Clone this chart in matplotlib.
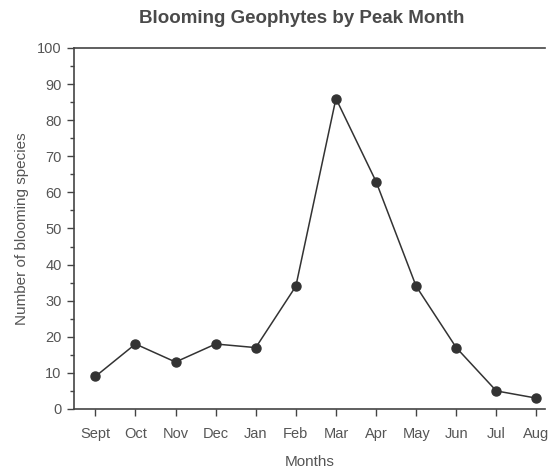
import matplotlib
matplotlib.use('Agg')
import matplotlib.pyplot as plt
from matplotlib.ticker import MultipleLocator

months = ['Sept', 'Oct', 'Nov', 'Dec', 'Jan', 'Feb', 'Mar', 'Apr', 'May', 'Jun', 'Jul', 'Aug']
species = [9, 18, 13, 18, 17, 34, 86, 63, 34, 17, 5, 3]

plt.rcParams['font.family'] = ['Liberation Sans', 'DejaVu Sans']
ink = '#444444'

fig = plt.figure(figsize=(5.53, 4.75), dpi=100)
ax = fig.add_axes([0.134, 0.139, 0.852, 0.76])

x = list(range(len(months)))
ax.plot(x, species, color='#333333', lw=1.1, marker='o', ms=6.5, mfc='#333333', mec='#333333')

ax.set_xlim(-0.53, 11.22)
ax.set_ylim(0, 100)
ax.set_xticks(x)
ax.set_xticklabels(months)
ax.yaxis.set_major_locator(MultipleLocator(10))
ax.yaxis.set_minor_locator(MultipleLocator(5))
ax.tick_params(axis='both', which='major', direction='out', length=5, width=1,
               colors=ink, labelsize=10.5, labelcolor='#555555')
ax.tick_params(axis='y', which='minor', direction='out', length=3, width=1, colors=ink)
ax.tick_params(axis='x', pad=8)
ax.tick_params(axis='y', pad=4)

for side in ['left', 'bottom', 'top']:
    ax.spines[side].set_color(ink)
    ax.spines[side].set_linewidth(1.2)
ax.spines['right'].set_visible(False)

ax.set_xlabel('Months', fontsize=11, color='#555555', labelpad=10)
ax.set_ylabel('Number of blooming species', fontsize=11, color='#555555', labelpad=6)
fig.text(0.545, 0.962, 'Blooming Geophytes by Peak Month', ha='center', va='center',
         fontsize=13.5, fontweight='bold', color='#4a4a4a')

fig.savefig('out.png', dpi=100)
